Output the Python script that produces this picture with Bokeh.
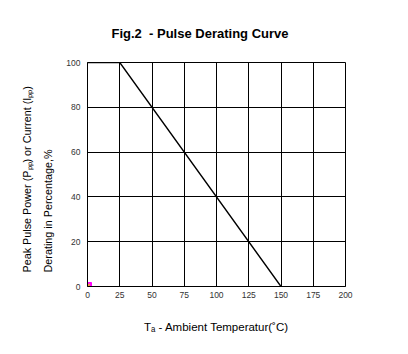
from bokeh.plotting import figure
from bokeh.models import Range1d, FixedTicker, Title
from bokeh.embed import file_html
from bokeh.resources import INLINE

# data
temp_c = [0, 25, 150]
derating_pct = [100, 100, 0]
x_ticks = [0, 25, 50, 75, 100, 125, 150, 175, 200]
y_ticks = [0, 20, 40, 60, 80, 100]
marker_x = [0]
marker_y = [0]

title_text = "Fig.2\u00a0 - Pulse Derating Curve"
xlabel_text = "T\u2090 - Ambient Temperatur(\u02daC)"
ylabel_line1 = "Peak Pulse Power (P\u209a\u209a) or Current (I\u209a\u209a)"
ylabel_line2 = "Derating in Percentage,%"

FL, FB, FW, FH = 87, 68, 258, 224
W, H = 408, 354
FONT = "Liberation Sans"

p = figure(width=W, height=H, output_backend="svg", toolbar_location=None,
           x_range=Range1d(0, 200), y_range=Range1d(0, 100),
           min_border_left=FL, min_border_right=W - FL - FW,
           min_border_top=H - FB - FH, min_border_bottom=FB)
p.frame_width = FW
p.frame_height = FH
p.background_fill_color = "white"
p.border_fill_color = "white"
p.outline_line_color = "black"
p.outline_line_width = 1

p.title.text = title_text
p.title.align = "left"
p.title.offset = 24
p.title.text_font = FONT
p.title.text_font_size = "13px"
p.title.text_font_style = "bold"
p.title.text_color = "black"
p.title.standoff = 44

for ax in (p.xaxis[0], p.yaxis[0]):
    ax.axis_line_color = "black"
    ax.major_tick_line_color = None
    ax.minor_tick_line_color = None
    ax.major_tick_out = 0
    ax.major_tick_in = 0
    ax.major_label_text_font = FONT
    ax.major_label_text_font_size = "8.5px"
    ax.major_label_text_color = "#333333"
p.xaxis.ticker = FixedTicker(ticks=x_ticks)
p.yaxis.ticker = FixedTicker(ticks=y_ticks)
p.xaxis.major_label_standoff = 5
p.yaxis.major_label_standoff = 7

p.xaxis.axis_label = xlabel_text
p.xaxis.axis_label_text_font = FONT
p.xaxis.axis_label_text_font_size = "11.5px"
p.xaxis.axis_label_text_font_style = "normal"
p.xaxis.axis_label_text_color = "black"
p.xaxis.axis_label_standoff = 20

p.xgrid.ticker = FixedTicker(ticks=x_ticks)
p.ygrid.ticker = FixedTicker(ticks=y_ticks)
p.grid.grid_line_color = "black"
p.grid.grid_line_width = 1
p.grid.grid_line_alpha = 1

p.line(temp_c, derating_pct, line_color="black", line_width=1.3)
p.scatter(marker_x, marker_y, marker="square", size=8, fill_color="#ff00ff",
          line_color="#ff00ff")
p.scatter(marker_x, marker_y, marker="asterisk", size=7, line_color="#e0d000",
          line_width=1.2)

for txt, so in ((ylabel_line2, 19), (ylabel_line1, -5)):
    t = Title(text=txt, align="left", offset=14, standoff=so,
              text_font=FONT, text_font_size="10.8px", text_font_style="normal",
              text_color="black")
    p.add_layout(t, "left")

open("out.html", "w").write(file_html(p, INLINE))
